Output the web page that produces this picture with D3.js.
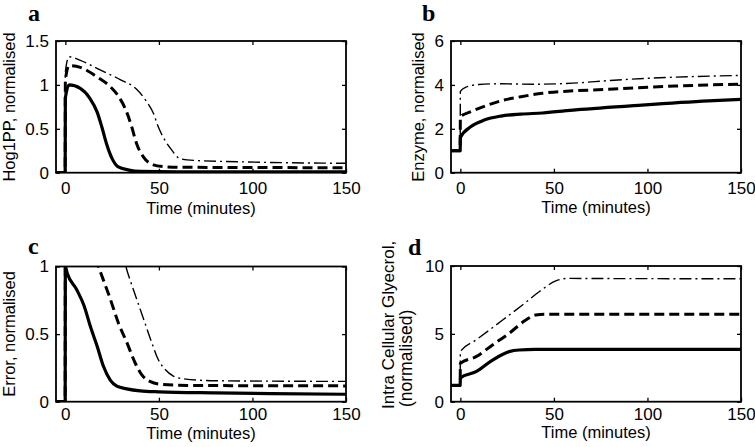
<!DOCTYPE html>
<html>
<head>
<meta charset="utf-8">
<script src="https://cdn.jsdelivr.net/npm/d3@7"></script>
<style>
  html, body { margin: 0; padding: 0; background: #fff; }
  svg { display: block; }
  text { font-family: "Liberation Sans", Arial, Helvetica, sans-serif; fill: #000; }
</style>
</head>
<body>
<svg id="chart" width="755" height="447"></svg>
<script>
// ---------------- data ----------------
const timeTicks = [0, 50, 100, 150];

// Panel a: Hog1PP, normalised
const hogSolidT = [-5, -0.1, 0, 2, 8, 13, 17, 19.5, 22, 25, 28, 34, 40, 60, 100, 150];
const hogSolidV = [0, 0, 0.85, 1.0, 0.96, 0.85, 0.69, 0.52, 0.33, 0.16, 0.07, 0.03, 0.015, 0.01, 0.01, 0.01];
const hogDashT = [-5, -0.1, 0, 2, 8, 17, 24, 28.4, 32.8, 35.5, 38.1, 41.7, 47, 52, 60, 80, 150];
const hogDashV = [0, 0, 1.05, 1.22, 1.2, 1.09, 0.98, 0.87, 0.69, 0.52, 0.33, 0.18, 0.09, 0.07, 0.062, 0.06, 0.057];
const hogDotT = [-5, -0.1, 0, 2, 8, 18.6, 29.3, 38.1, 43.4, 47, 49.7, 53.2, 56.8, 61.2, 68.6, 92, 120, 150];
const hogDotV = [0, 0, 1.15, 1.32, 1.28, 1.17, 1.06, 0.95, 0.81, 0.68, 0.52, 0.37, 0.26, 0.16, 0.14, 0.125, 0.113, 0.107];
const hogYTicks = [0, 0.5, 1, 1.5];

// Panel b: Enzyme, normalised
const enzSolidT = [-5, -0.1, 0, 5.7, 12.8, 21.7, 32.3, 43.9, 61.6, 97, 132.6, 150];
const enzSolidV = [1, 1, 1.6, 2.1, 2.4, 2.58, 2.67, 2.72, 2.86, 3.08, 3.27, 3.34];
const enzDashT = [-5, -0.1, 0, 5.7, 14.6, 23.4, 32.3, 43.9, 79.3, 114.8, 150];
const enzDashV = [1, 1, 2.55, 2.78, 3.08, 3.31, 3.46, 3.62, 3.8, 3.95, 4.03];
const enzDotT = [-5, -0.1, 0, 3, 10, 20, 40, 60, 80, 100, 125, 150];
const enzDotV = [1, 1, 3.7, 3.9, 4.02, 4.05, 4.03, 4.08, 4.2, 4.3, 4.38, 4.43];
const enzYTicks = [0, 2, 4, 6];

// Panel c: Error, normalised
const errSolidT = [-5, -0.1, 0, 1, 6, 10, 13.3, 17, 20.4, 24, 27.5, 32.8, 40, 50, 80, 110, 150];
const errSolidV = [0, 0, 1, 0.95, 0.83, 0.71, 0.56, 0.41, 0.26, 0.16, 0.115, 0.095, 0.08, 0.073, 0.065, 0.06, 0.055];
const errDashT = [-5, -0.1, 0, 15, 19, 24, 28.4, 32.8, 37.2, 40.8, 45.2, 52, 70, 150];
const errDashV = [0, 0, 1.4, 1.1, 0.95, 0.76, 0.58, 0.44, 0.29, 0.2, 0.15, 0.127, 0.12, 0.117];
const errDotT = [-5, -0.1, 0, 30, 33.4, 38.1, 42.6, 46.1, 49.7, 53.2, 57.7, 63, 80, 150];
const errDotV = [0, 0, 1.5, 1.1, 0.95, 0.76, 0.58, 0.44, 0.31, 0.24, 0.19, 0.17, 0.155, 0.15];
const errYTicks = [0, 0.5, 1];

// Panel d: Intra Cellular Glyecrol (normalised)
const glySolidT = [-5, -0.1, 0, 8.4, 17.2, 26.1, 31.4, 40, 150];
const glySolidV = [1.2, 1.2, 1.75, 2.21, 3.07, 3.69, 3.81, 3.85, 3.85];
const glyDashT = [-5, -0.1, 0, 8.4, 17.2, 26.1, 35, 40.3, 45, 150];
const glyDashV = [1.2, 1.2, 2.83, 3.32, 4.18, 5.04, 6.02, 6.39, 6.44, 6.44];
const glyDotT = [-5, -0.1, 0, 8.4, 22.6, 33.2, 42.1, 51, 58, 65, 150];
const glyDotV = [1.2, 1.2, 3.69, 4.55, 6.02, 7.13, 8.1, 8.9, 9.09, 9.08, 9.06];
const glyYTicks = [0, 5, 10];

// ---------------- drawing ----------------
const svg = d3.select("#chart");
svg.append("rect").attr("width", 755).attr("height", 447).attr("fill", "#fff");

const styles = {
  solid: { w: 3.2, dash: null },
  dash: { w: 3, dash: "10,5" },
  dot: { w: 1.4, dash: "12,4,2,4" }
};

function zip(t, v) { return t.map((d, i) => [d, v[i]]); }

function panel(cfg) {
  const { id, left, right, top, bottom, ymax, yTicks, series, xPad, letter, letterX, letterY } = cfg;
  const x = d3.scaleLinear().domain([-5, 150]).range([left, right]);
  const y = d3.scaleLinear().domain([0, ymax]).range([bottom, top]);
  const g = svg.append("g");

  svg.append("clipPath").attr("id", "clip" + id)
    .append("rect").attr("x", left).attr("y", top).attr("width", right - left).attr("height", bottom - top);

  const line = d3.line().x(d => x(d[0])).y(d => y(d[1])).curve(d3.curveMonotoneX);
  const lines = g.append("g").attr("clip-path", `url(#clip${id})`);
  series.forEach(s => {
    const st = styles[s.style];
    lines.append("path")
      .attr("d", line(zip(s.t, s.v)))
      .attr("fill", "none")
      .attr("stroke", "#000")
      .attr("stroke-width", st.w)
      .attr("stroke-dasharray", st.dash)
      .attr("stroke-linejoin", "round");
  });

  const fmt = d => String(d);
  const ax = g.append("g").attr("transform", `translate(0,${bottom})`)
    .call(d3.axisBottom(x).tickValues(timeTicks).tickFormat(fmt).tickSize(-4).tickSizeOuter(0).tickPadding(xPad));
  const axT = g.append("g").attr("transform", `translate(0,${top})`)
    .call(d3.axisTop(x).tickValues(timeTicks).tickFormat("").tickSize(-4).tickSizeOuter(0));
  const ay = g.append("g").attr("transform", `translate(${left},0)`)
    .call(d3.axisLeft(y).tickValues(yTicks).tickFormat(fmt).tickSize(-4).tickSizeOuter(0).tickPadding(7));
  const ayR = g.append("g").attr("transform", `translate(${right},0)`)
    .call(d3.axisRight(y).tickValues(yTicks).tickFormat("").tickSize(-4).tickSizeOuter(0));

  [ax, axT, ay, ayR].forEach(a => {
    a.select(".domain").remove();
    a.selectAll(".tick line").attr("stroke", "#000").attr("stroke-width", 1.3);
    a.selectAll("text").attr("font-size", 17).attr("fill", "#000");
  });

  g.append("rect").attr("x", left).attr("y", top).attr("width", right - left).attr("height", bottom - top)
    .attr("fill", "none").attr("stroke", "#000").attr("stroke-width", 1.8);

  g.append("text").attr("x", (left + right) / 2).attr("y", cfg.xLabelY)
    .attr("text-anchor", "middle").attr("font-size", 16.5).text("Time (minutes)");

  cfg.yLabels.forEach(l => {
    g.append("text")
      .attr("transform", `translate(${l.x},${l.y}) rotate(-90)`)
      .attr("text-anchor", l.anchor).attr("font-size", l.size || 16.5).text(l.text);
  });

  svg.append("text").attr("x", letterX).attr("y", letterY)
    .style("font-family", '"Liberation Serif", "Times New Roman", serif')
    .attr("font-weight", "bold").attr("font-size", 24).text(letter);
}

panel({
  id: "a", left: 56, right: 346, top: 41, bottom: 172.7, ymax: 1.5, yTicks: hogYTicks, xPad: 9.5,
  series: [
    { t: hogSolidT, v: hogSolidV, style: "solid" },
    { t: hogDashT, v: hogDashV, style: "dash" },
    { t: hogDotT, v: hogDotV, style: "dot" }
  ],
  xLabelY: 213.5,
  yLabels: [{ x: 15, y: 107, anchor: "middle", text: "Hog1PP, normalised" }],
  letter: "a", letterX: 28, letterY: 21
});

panel({
  id: "b", left: 451, right: 741, top: 41, bottom: 172.7, ymax: 6, yTicks: enzYTicks, xPad: 9.5,
  series: [
    { t: enzSolidT, v: enzSolidV, style: "solid" },
    { t: enzDashT, v: enzDashV, style: "dash" },
    { t: enzDotT, v: enzDotV, style: "dot" }
  ],
  xLabelY: 213,
  yLabels: [{ x: 424, y: 107, anchor: "middle", text: "Enzyme, normalised" }],
  letter: "b", letterX: 422, letterY: 21
});

panel({
  id: "c", left: 56, right: 346, top: 266.5, bottom: 401.7, ymax: 1, yTicks: errYTicks, xPad: 6,
  series: [
    { t: errSolidT, v: errSolidV, style: "solid" },
    { t: errDashT, v: errDashV, style: "dash" },
    { t: errDotT, v: errDotV, style: "dot" }
  ],
  xLabelY: 438.5,
  yLabels: [{ x: 15, y: 334, anchor: "middle", text: "Error, normalised" }],
  letter: "c", letterX: 28, letterY: 254
});

panel({
  id: "d", left: 451, right: 741, top: 266, bottom: 401.7, ymax: 10, yTicks: glyYTicks, xPad: 6,
  series: [
    { t: glySolidT, v: glySolidV, style: "solid" },
    { t: glyDashT, v: glyDashV, style: "dash" },
    { t: glyDotT, v: glyDotV, style: "dot" }
  ],
  xLabelY: 438,
  yLabels: [
    { x: 394, y: 409, anchor: "start", size: 17, text: "Intra Cellular Glyecrol," },
    { x: 412, y: 407, anchor: "start", size: 17.5, text: "(normalised)" }
  ],
  letter: "d", letterX: 408, letterY: 255
});
</script>
</body>
</html>
